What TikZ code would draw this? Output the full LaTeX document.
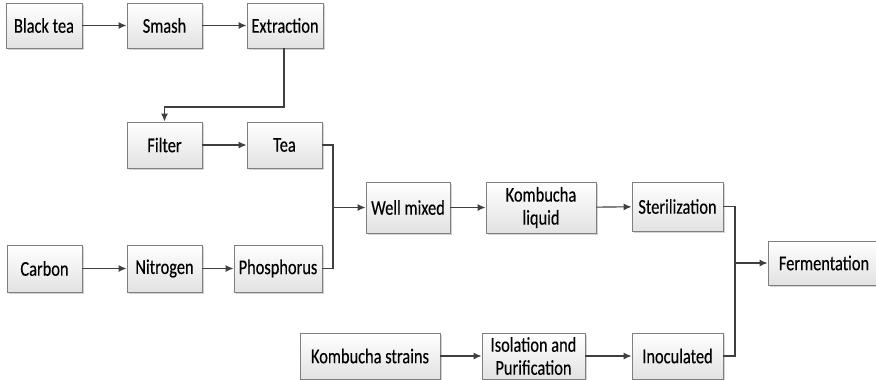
\documentclass[tikz,border=0pt]{standalone}
\usepackage{fontspec}
\setmainfont[FakeStretch=0.78,FakeBold=0.25]{Carlito}
\usetikzlibrary{arrows.meta,shadows,calc}
\definecolor{boxline}{HTML}{7F7F7F}
\definecolor{conn}{HTML}{3F3F3F}
\definecolor{boxbot}{HTML}{E2E2E2}
\tikzset{
  stepbox/.style={draw=boxline, line width=0.9pt, top color=white, bottom color=boxbot,
    minimum height=#1, inner sep=1pt, align=center, text=black,
    font=\fontsize{21}{23}\selectfont,
    drop shadow={shadow xshift=1.6pt, shadow yshift=-1.6pt, opacity=0.35, fill=gray}},
  stepbox/.default=46pt,
  conline/.style={draw=conn, line width=1.1pt},
  arr/.style={conline, -{Latex[length=8pt,width=7pt]}}
}
\begin{document}
\begin{tikzpicture}[x=1pt,y=-1pt]
\useasboundingbox (0,0) rectangle (876,380);
% row 1
\node[stepbox=45pt, minimum width=76pt] (black) at (44,25.5) {Black tea};
\node[stepbox=45pt, minimum width=75pt] (smash) at (164.5,25.5) {Smash};
\node[stepbox=45pt, minimum width=76pt] (extr) at (285,25.5) {Extraction};
% row 2
\node[stepbox=46pt, minimum width=75pt] (filter) at (164.5,145) {Filter};
\node[stepbox=46pt, minimum width=75pt] (tea) at (284.5,145) {Tea};
% row 3
\node[stepbox=47pt, minimum width=75pt] (carbon) at (44.5,268.5) {Carbon};
\node[stepbox=47pt, minimum width=75pt] (nitro) at (164.5,268.5) {Nitrogen};
\node[stepbox=47pt, minimum width=88pt] (phos) at (278,268.5) {Phosphorus};
% middle row
\node[stepbox=51pt, minimum width=84pt] (well) at (408,207.5) {Well mixed};
\node[stepbox=51pt, minimum width=110pt] (kliq) at (541,207.5) {Kombucha\\liquid};
\node[stepbox=49pt, minimum width=91pt] (steril) at (677.5,206.5) {Sterilization};
\node[stepbox=44pt, minimum width=112pt] (ferm) at (824,263) {Fermentation};
% bottom row
\node[stepbox=46pt, minimum width=140pt] (strains) at (370,356) {Kombucha strains};
\node[stepbox=46pt, minimum width=103pt] (iso) at (533.5,356) {Isolation and\\Purification};
\node[stepbox=46pt, minimum width=91pt] (inoc) at (677.5,356) {Inoculated};
% junction coordinates
\coordinate (j1) at (284,107);
\coordinate (j2) at (333,207.5);
\coordinate (j3) at (735,263);
% connectors
\draw[arr] (black) -- (smash);
\draw[arr] (smash) -- (extr);
\draw[arr] (extr.south -| j1) -- (j1) -| (filter.north);
\draw[arr] (filter) -- (tea);
\draw[arr] (carbon) -- (nitro);
\draw[arr] (nitro) -- (phos);
\draw[conline] (tea.east) -| (j2);
\draw[conline] (phos.east) -| (j2);
\draw[arr] (j2) -- (well.west);
\draw[arr] (well) -- (kliq);
\draw[arr] (kliq) -- (steril);
\draw[conline] (steril.east) -| (j3);
\draw[conline] (inoc.east) -| (j3);
\draw[arr] (j3) -- (ferm.west);
\draw[arr] (strains) -- (iso);
\draw[arr] (iso) -- (inoc);
\end{tikzpicture}
\end{document}
